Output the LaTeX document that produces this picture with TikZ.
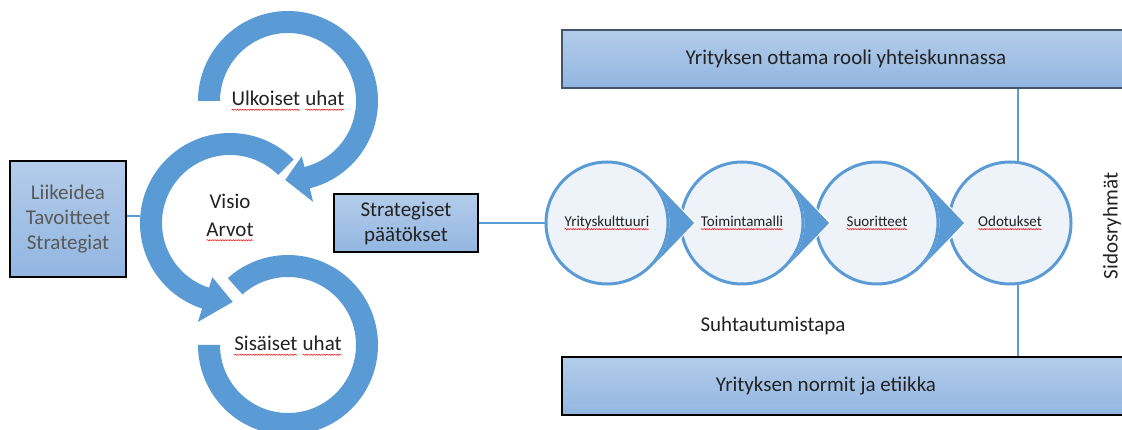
\documentclass[tikz,border=0pt]{standalone}
\usepackage{fontspec}
\setmainfont{Carlito}
\usetikzlibrary{calc,decorations.pathmorphing}
\definecolor{ringblue}{HTML}{5B9BD5}
\definecolor{boxtop}{HTML}{B3CCEA}
\definecolor{boxbot}{HTML}{92B6E1}
\definecolor{discfill}{HTML}{EEF3FA}
\definecolor{slate}{HTML}{44546A}
\definecolor{greytext}{HTML}{595959}
\definecolor{inktext}{HTML}{222222}
\newcommand\spell[1]{\tikz[baseline=(sp.base)]{\node[rectangle,draw=none,fill=none,minimum size=0pt,inner sep=0pt,outer sep=0pt](sp){#1};\draw[red,line width=.5pt,decorate,decoration={snake,amplitude=.6pt,segment length=2.6pt}]([yshift=-.18em]sp.base west) -- ([yshift=-.18em]sp.base east);}}

\begin{document}
\begin{tikzpicture}[x=1pt,y=1pt,font=\fontsize{21}{25}\selectfont,text=inktext,
  bluebox/.style={draw=black,line width=2pt,top color=boxtop,bottom color=boxbot,inner sep=0pt},
  disc/.style={circle,draw=ringblue,line width=3pt,fill=discfill,minimum size=122pt,inner sep=0pt,font=\fontsize{15}{18}\selectfont},
  link/.style={draw=ringblue,line width=1.5pt}]
\useasboundingbox (0,0) rectangle (1122,-430);
% three circular arrows
\fill[ringblue,shift={(288,-101)}] (180:90) arc[start angle=180,end angle=-76,radius=90] -- (-76:104) -- (-92:79) -- (-76:57) -- (-76:68) arc[start angle=-76,end angle=180,radius=68] -- cycle;
\fill[ringblue,shift={(230,-223)}] (45:90) arc[start angle=45,end angle=252,radius=90] -- (252:104) -- (272:79) -- (252:57) -- (252:68) arc[start angle=252,end angle=45,radius=68] -- cycle;
\fill[ringblue,shift={(288,-345)}] (132:90) arc[start angle=132,end angle=-180,radius=90] -- (180:68) arc[start angle=-180,end angle=132,radius=68] -- cycle;
\node (outer) at (288,-101){\spell{Ulkoiset} \spell{uhat}};
\node (vision) at (230,-201){Visio};
\node (values) at (230,-232){\spell{Arvot}};
\node (inner) at (288,-346){\spell{Sisäiset} \spell{uhat}};
% boxes
\node[bluebox,minimum size=116pt,align=center,text=greytext] (idea) at (68,-219){Liikeidea\\Tavoitteet\\Strategiat};
\coordinate (ringL) at (140,-216);
\draw[link] (idea.east |- ringL) -- (ringL);
\node[bluebox,minimum width=144pt,minimum height=58pt,align=center] (dec) at (406,-223){Strategiset\\päätökset};
\node[bluebox,draw=slate,minimum width=568pt,minimum height=58pt] (role) at (846,-59){Yrityksen ottama rooli yhteiskunnassa};
\node[bluebox,minimum width=568pt,minimum height=58pt,label={[xshift=-20pt]center:Yrityksen normit ja etiikka}] (norms) at (846,-386){};
\node (attitude) at (773,-326){Suhtautumistapa};
\node[rotate=90] (stake) at (1112,-226){Sidosryhmät};
% links behind the chain
\coordinate (tieX) at (1018,0);
\draw[link] (dec.east) -- (580,-223);
\draw[link] (tieX |- role.south) -- (tieX |- 0,-180);
\draw[link] (tieX |- 0,-270) -- (tieX |- norms.north);
% chain of circles
\foreach \x/\n/\t in {607/c1/Yrityskulttuuri,742/c2/Toimintamalli,877/c3/Suoritteet,1010/c4/Odotukset}
  \node[disc] (\n) at (\x,-223){\spell{\t}};
\foreach \n in {c1,c2,c3}{
  \fill[ringblue] ($(\n.center)+(44.7:62.5)$) -- ($(\n.center)+(88,0)$) -- ($(\n.center)+(-44.7:62.5)$) arc[start angle=-44.7,end angle=44.7,radius=62.5] -- cycle;
  \draw[white,line width=1pt] ($(\n.center)+(44.7:64)$) -- ($(\n.center)+(88,0)$) -- ($(\n.center)+(-44.7:64)$);
}
\end{tikzpicture}
\end{document}
